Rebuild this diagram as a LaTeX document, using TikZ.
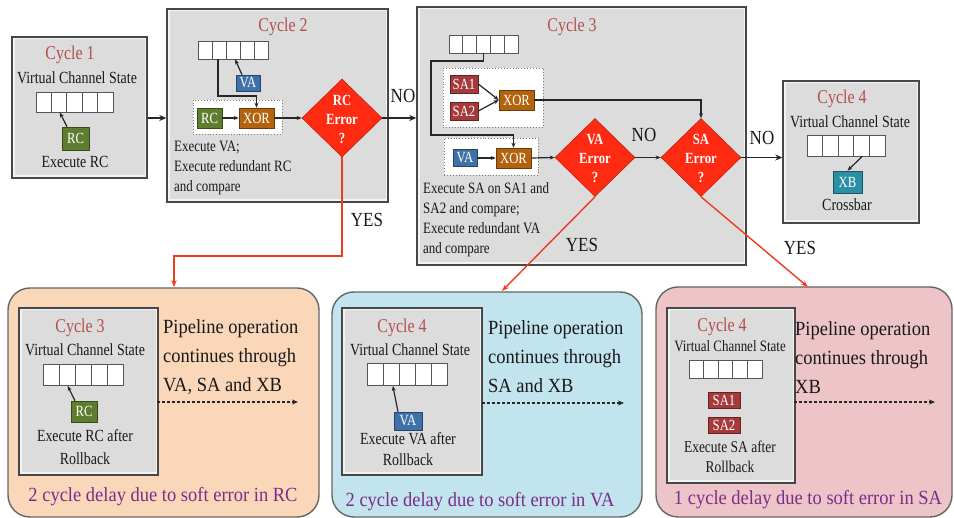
\documentclass[tikz,border=0pt]{standalone}
\usepackage{fontspec}
\setmainfont{Liberation Serif}
\newfontfamily\cnd[FakeStretch=0.82]{Liberation Serif}
\newfontfamily\pnd[FakeStretch=0.92]{Liberation Serif}
\newfontfamily\ynd[FakeStretch=0.85]{Liberation Serif}
\usetikzlibrary{shapes.geometric,arrows.meta,calc}
\definecolor{boxedge}{HTML}{474747}
\definecolor{boxouter}{HTML}{F3F3F3}
\definecolor{boxin}{HTML}{DCDCDC}
\definecolor{cyc}{HTML}{B4504B}
\definecolor{rcgreen}{HTML}{5E7D2E}
\definecolor{vablue}{HTML}{3F71A8}
\definecolor{xororange}{HTML}{B3620E}
\definecolor{sared}{HTML}{A63A3A}
\definecolor{xbteal}{HTML}{2A90A6}
\definecolor{errred}{HTML}{FF2A12}
\definecolor{redline}{HTML}{F03C1E}
\definecolor{orangebg}{HTML}{FBD7BA}
\definecolor{bluebg}{HTML}{C2E4EE}
\definecolor{pinkbg}{HTML}{EDC5C8}
\definecolor{paneledge}{HTML}{666666}
\definecolor{delaypurple}{HTML}{7B2C8B}
\definecolor{regedge}{HTML}{555555}
\newcommand\fs[2]{\fontsize{#1}{#2}\selectfont}
\begin{document}
\begin{tikzpicture}[x=1pt,y=-1pt,
  cbox/.style={draw=boxedge, fill=boxouter, line width=1.4pt, inner sep=0,
    path picture={\fill[boxin] ([shift={(2.5pt,-2.5pt)}]path picture bounding box.north west) rectangle ([shift={(-2.5pt,2.5pt)}]path picture bounding box.south east);}},
  panel/.style={draw=paneledge, fill=#1, line width=1.4pt, rounded corners=22pt, inner sep=0},
  reg/.style={draw=regedge, fill=white, line width=0.8pt, inner sep=0,
    path picture={\foreach \k in {1,2,3,4}{\draw[regedge,line width=0.8pt] ($(path picture bounding box.north west)!\k/5!(path picture bounding box.north east)$) -- ($(path picture bounding box.south west)!\k/5!(path picture bounding box.south east)$);}}},
  blk/.style={fill=#1, draw=#1!60!black, line width=0.6pt, text=white, inner sep=0, font=\cnd\fs{15.5}{17}},
  dotbox/.style={draw=gray, fill=white, dotted, line width=0.9pt, inner sep=0},
  errd/.style={diamond, fill=errred, draw=errred!75!black, line width=0.6pt, minimum width=80pt, minimum height=78pt, inner sep=0},
  errt/.style={text=white, font=\cnd\bfseries\fs{15.5}{19}, align=center, inner sep=0},
  cyct/.style={inner sep=0, text=cyc, font=\cnd\fs{19.5}{22}},
  lbl/.style={inner sep=0, font=\cnd\fs{17}{20}, text=black!90},
  note/.style={inner sep=0, font=\cnd\fs{15.8}{20}, align=left, text=black!90},
  big/.style={inner sep=0, font=\ynd\fs{20}{22}, text=black!90},
  pipe/.style={inner sep=0, font=\pnd\fs{20.1}{29}, align=left, text=black!90},
  delay/.style={inner sep=0, font=\pnd\fs{20.1}{22}, text=delaypurple},
  arr/.style={-{Stealth[length=5pt,width=4pt]}, line width=1.2pt, black!85},
  mainarr/.style={-{Stealth[length=7pt,width=6pt]}, line width=1.8pt, black!85},
  yesarr/.style={-{Stealth[length=7pt,width=5pt]}, line width=1.4pt, redline},
  dasharr/.style={-{Stealth[length=6pt,width=5pt]}, dash pattern=on 3pt off 2pt, line width=1.2pt, black!85}
]
\useasboundingbox (0,0) rectangle (954,518);
\fill[white] (0,0) rectangle (954,518);

% ---------- top cycle boxes ----------
\node[cbox, minimum width=135pt, minimum height=141pt] (c1) at (79.5,107.5) {};
\node[cbox, minimum width=221pt, minimum height=193pt] (c2) at (277.5,105.5) {};
\node[cbox, minimum width=329pt, minimum height=258pt] (c3) at (581.5,136) {};
\node[cbox, minimum width=136pt, minimum height=142pt] (c4) at (851,152) {};

% ---------- cycle 1 ----------
\node[cyct] (c1t) at (70,55) {Cycle 1};
\node[lbl] (c1v) at (77,78) {Virtual Channel State};
\node[reg, minimum width=77pt, minimum height=20pt] (r1) at (74.5,102) {};
\node[blk=rcgreen, minimum width=27pt, minimum height=23pt] (rc1) at (75.5,138.5) {RC};
\node[lbl] (c1e) at (75,162) {Execute RC};
\draw[arr] ([xshift=-8.5pt]rc1.north) -- ($(r1.south west)!0.31!(r1.south east)$);

% ---------- cycle 2 ----------
\node[cyct] (c2t) at (283,27) {Cycle 2};
\node[reg, minimum width=70pt, minimum height=18pt] (r2) at (233,50) {};
\node[blk=vablue, minimum width=24pt, minimum height=16pt] (va2) at (248,83) {VA};
\node[dotbox, minimum width=89pt, minimum height=34pt] (db2) at (237.5,117) {};
\node[blk=rcgreen, minimum width=25pt, minimum height=20pt] (rc2) at (209.5,118) {RC};
\node[blk=xororange, minimum width=35pt, minimum height=20pt] (x2) at (256.5,118) {XOR};
\node[note, anchor=west] (c2n) at (174,168) {Execute VA;\\Execute redundant RC\\and compare};
\node[errd] (rcd) at (342,118) {};
\node[errt] (rcdt) at (342,119) {RC\\Error\\?};
\draw[arr] ([xshift=-6pt]va2.north) -- ($(r2.south west)!0.53!(r2.south east)$);
\coordinate (k1) at (218,96);
\draw[arr] (r2.south -| k1) -- (k1) -| (x2.north);
\draw[arr] (rc2.east) -- (x2.west);
\draw[arr] (x2.east) -- (rcd.west);

% ---------- cycle 3 ----------
\node[cyct] (c3t) at (572,27) {Cycle 3};
\node[reg, minimum width=69pt, minimum height=18pt] (r3) at (483.5,44) {};
\node[dotbox, minimum width=100pt, minimum height=59pt] (db31) at (493,97.5) {};
\node[dotbox, minimum width=94pt, minimum height=37pt] (db32) at (491,156.5) {};
\node[blk=sared, minimum width=28pt, minimum height=18pt] (sa1) at (464,84) {SA1};
\node[blk=sared, minimum width=28pt, minimum height=18pt] (sa2) at (464,111) {SA2};
\node[blk=xororange, minimum width=35pt, minimum height=20pt] (x31) at (516.5,100) {XOR};
\node[blk=vablue, minimum width=24pt, minimum height=17pt] (va3) at (465,158) {VA};
\node[blk=xororange, minimum width=35pt, minimum height=20pt] (x32) at (513.5,158) {XOR};
\node[note, anchor=west] (c3n) at (423,220) {Execute SA on SA1 and\\SA2 and compare;\\Execute redundant VA\\and compare};
\node[errd] (vad) at (595,157.5) {};
\node[errt] (vadt) at (595,158.5) {VA\\Error\\?};
\node[errd] (sad) at (701,157.5) {};
\node[errt] (sadt) at (701,158.5) {SA\\Error\\?};
\coordinate (k2) at (431,61);
\coordinate (k3) at (431,135);
\draw[arr] (r3.south) -- (r3.south |- k2) -- (k2) -- (k3) -| (x32.north);
\draw[arr] (sa1.east) -- (x31.west);
\draw[arr] (sa2.east) -- (x31.west);
\draw[arr] (va3.east) -- (x32.west);
\draw[arr] (x32.east) -- (vad.west);
\draw[arr] (x31.east) -| (sad.north);
\draw[arr] (vad.east) -- (sad.west);

% ---------- cycle 4 ----------
\node[cyct] (c4t) at (842,99) {Cycle 4};
\node[lbl] (c4v) at (850,122) {Virtual Channel State};
\node[reg, minimum width=78pt, minimum height=21pt] (r4) at (846,145.5) {};
\node[blk=xbteal, minimum width=29pt, minimum height=22pt] (xb4) at (847.5,182) {XB};
\node[lbl] (c4e) at (847,205) {Crossbar};
\draw[arr] ($(r4.south west)!0.705!(r4.south east)$) -- (xb4.north);

% ---------- main flow ----------
\draw[mainarr] (c1.east |- rcd.west) -- (c2.west |- rcd.west);
\draw[mainarr] (rcd.east) -- (c3.west |- rcd.east);
\draw[mainarr] (sad.east) -- (c4.west |- sad.east);
\node[big] (no1) at (403,96) {NO};
\node[big] (no2) at (644,135) {NO};
\node[big] (no3) at (762,138) {NO};
\node[big] (yes1) at (367,220) {YES};
\node[big] (yes2) at (582,245) {YES};
\node[big] (yes3) at (800,248) {YES};

% ---------- bottom panels ----------
\node[panel=orangebg, minimum width=311pt, minimum height=229pt] (p1) at (163.5,402.5) {};
\node[panel=bluebg, minimum width=310pt, minimum height=225pt] (p2) at (487,404.5) {};
\node[panel=pinkbg, minimum width=296pt, minimum height=230pt] (p3) at (804,402) {};

% red YES connectors
\coordinate (k4) at (174,256);
\draw[yesarr] (rcd.south) -- (rcd.south |- k4) -- (k4) -- (k4 |- p1.north);
\coordinate (e2) at (502,291);
\draw[yesarr] (vad.south) -- (e2);
\coordinate (e3) at (808,287);
\draw[yesarr] (sad.south) -- (e3);

% panel 1
\node[cbox, minimum width=139pt, minimum height=167pt] (i1) at (88.5,391.5) {};
\node[cyct] (i1t) at (80,328) {Cycle 3};
\node[lbl] (i1v) at (85,350) {Virtual Channel State};
\node[reg, minimum width=80pt, minimum height=21pt] (r5) at (83,375) {};
\node[blk=rcgreen, minimum width=26pt, minimum height=21pt] (rc5) at (84,411.5) {RC};
\node[lbl] (i1e) at (85,436) {Execute RC after};
\node[lbl] (i1r) at (85,459) {Rollback};
\draw[arr] ([xshift=-9pt]rc5.north) -- ($(r5.south west)!0.31!(r5.south east)$);
\node[pipe, anchor=west] (pp1) at (163,357) {Pipeline operation\\continues through\\VA, SA and XB};
\coordinate (d1a) at (157,402);
\coordinate (d1b) at (298,402);
\draw[dasharr] (d1a) -- (d1b);
\node[delay] (dl1) at (163,497) {2 cycle delay due to soft error in RC};

% panel 2
\node[cbox, minimum width=140pt, minimum height=167pt] (i2) at (412,391.5) {};
\node[cyct] (i2t) at (402,328) {Cycle 4};
\node[lbl] (i2v) at (410,350) {Virtual Channel State};
\node[reg, minimum width=80pt, minimum height=22pt] (r6) at (407,374.5) {};
\node[blk=vablue, minimum width=28pt, minimum height=18pt] (va6) at (408,421) {VA};
\node[lbl] (i2e) at (408,439) {Execute VA after};
\node[lbl] (i2r) at (408,460) {Rollback};
\draw[arr] ([xshift=-10pt]va6.north) -- ($(r6.south west)!0.325!(r6.south east)$);
\node[pipe, anchor=west] (pp2) at (488,357) {Pipeline operation\\continues through\\SA and XB};
\coordinate (d2a) at (482,403);
\coordinate (d2b) at (624,403);
\draw[dasharr] (d2a) -- (d2b);
\node[delay] (dl2) at (480,502) {2 cycle delay due to soft error in VA};

% panel 3
\node[cbox, minimum width=128pt, minimum height=175pt] (i3) at (731,395.5) {};
\node[cyct] (i3t) at (722,327) {Cycle 4};
\node[lbl, font=\cnd\fs{15.8}{18}] (i3v) at (730,346) {Virtual Channel State};
\node[reg, minimum width=73pt, minimum height=18pt] (r7) at (725.5,369) {};
\node[blk=sared, minimum width=32pt, minimum height=16pt] (sa71) at (724,400.5) {SA1};
\node[blk=sared, minimum width=32pt, minimum height=16pt] (sa72) at (724,425) {SA2};
\node[lbl, font=\cnd\fs{16.4}{18}] (i3e) at (730,447) {Execute SA after};
\node[lbl, font=\cnd\fs{16.4}{18}] (i3r) at (730,467) {Rollback};
\node[pipe, anchor=west] (pp3) at (795,358) {Pipeline operation\\continues through\\XB};
\coordinate (d3a) at (794,402);
\coordinate (d3b) at (935,402);
\draw[dasharr] (d3a) -- (d3b);
\node[delay] (dl3) at (808,500) {1 cycle delay due to soft error in SA};
\end{tikzpicture}
\end{document}
